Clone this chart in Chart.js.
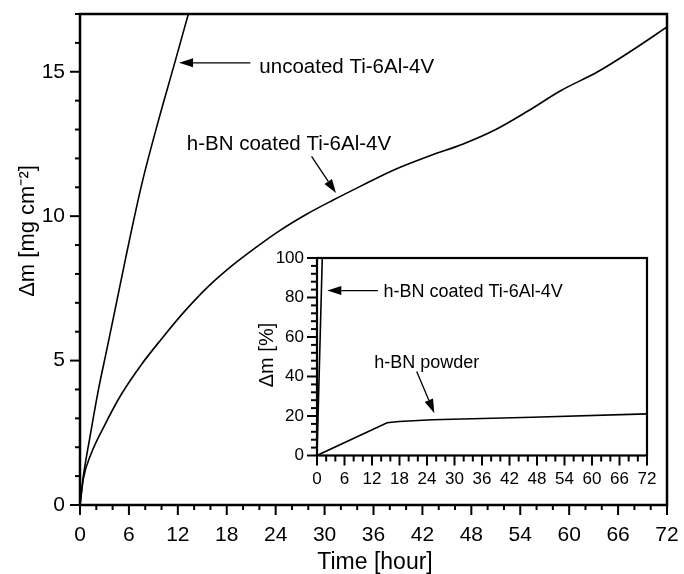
<!DOCTYPE html>
<html>
<head>
<meta charset="utf-8">
<script src="https://cdn.jsdelivr.net/npm/chart.js@4.4.1/dist/chart.umd.min.js"></script>
<style>
html, body { margin: 0; padding: 0; background: #fff; }
#wrap { position: relative; width: 684px; height: 574px; }
#mainChart { position: absolute; left: 0; top: 0; }
#insetChart { position: absolute; left: 250px; top: 240px; }
</style>
</head>
<body>
<div id="wrap">
  <canvas id="mainChart" width="684" height="574" style="width:684px;height:574px"></canvas>
  <canvas id="insetChart" width="410" height="250" style="width:410px;height:250px"></canvas>
</div>
<script>
// main plot: mass gain per area vs time
var uncoatedHours = [0, 0.12, 0.4, 1.23, 2.25, 3.28, 4.29, 5.6, 7.57, 9.61, 11.66, 13.29];
var uncoatedGain  = [0, 0.29, 0.98, 2.37, 3.98, 5.37, 6.75, 8.55, 11.1, 13.3, 15.35, 17.0];

var coatedHours = [0, 0.4, 1.4, 3, 5, 7.5, 10, 12.5, 15.5, 18.5, 21.5, 24.5, 28, 31, 34.5, 38.5, 43, 47, 51, 55, 59, 63.5, 67.5, 72];
var coatedGain  = [0, 0.9, 1.8, 2.75, 3.8, 4.85, 5.75, 6.6, 7.5, 8.25, 8.9, 9.5, 10.1, 10.55, 11.05, 11.6, 12.1, 12.5, 13.0, 13.65, 14.35, 15.0, 15.7, 16.55];

// inset: mass gain in percent
var insetCoatedHours = [0, 1.15];
var insetCoatedPct   = [0, 100];
var powderHours = [0, 15.3, 17.9, 25.2, 47, 72];
var powderPct   = [0, 16.6, 17.2, 18.1, 19.4, 21.1];

var mainXTicks = [0, 72, 6, 2];     // min, max, major step, minor step
var mainYTicks = [0, 17, 5, 1];
var insetXTicks = [0, 72, 6, 2];
var insetYTicks = [0, 100, 20, 4];

var FONT = "'Liberation Sans', Arial, sans-serif";

function toPoints(xs, ys) {
    var pts = [];
    for (var i = 0; i < xs.length; i++) pts.push({x: xs[i], y: ys[i]});
    return pts;
}

// ticks on the outside + closed frame
function frameTicksPlugin(cfg) {
    return {
        id: 'frameTicks',
        afterDraw: function(chart) {
            var ctx = chart.ctx, a = chart.chartArea;
            var xs = chart.scales.x, ys = chart.scales.y;
            ctx.save();
            ctx.strokeStyle = '#000';
            ctx.lineWidth = cfg.tickWidth;
            var v, p, major;
            for (v = cfg.x[0]; v <= cfg.x[1] + 1e-9; v += cfg.x[3]) {
                p = xs.getPixelForValue(v);
                major = Math.abs(v / cfg.x[2] - Math.round(v / cfg.x[2])) < 1e-6;
                ctx.beginPath();
                ctx.moveTo(p, a.bottom);
                ctx.lineTo(p, a.bottom + (major ? cfg.major : cfg.minor));
                ctx.stroke();
            }
            for (v = cfg.y[0]; v <= cfg.y[1] + 1e-9; v += cfg.y[3]) {
                p = ys.getPixelForValue(v);
                major = Math.abs(v / cfg.y[2] - Math.round(v / cfg.y[2])) < 1e-6;
                ctx.beginPath();
                ctx.moveTo(a.left, p);
                ctx.lineTo(a.left - (major ? cfg.major : cfg.minor), p);
                ctx.stroke();
            }
            ctx.lineWidth = cfg.frameWidth;
            ctx.strokeRect(a.left, a.top, a.right - a.left, a.bottom - a.top);
            ctx.restore();
        }
    };
}

function arrow(ctx, x1, y1, x2, y2) {
    var ang = Math.atan2(y2 - y1, x2 - x1);
    var len = 14, half = 4.5;
    var bx = x2 - len * Math.cos(ang), by = y2 - len * Math.sin(ang);
    ctx.beginPath();
    ctx.moveTo(x1, y1);
    ctx.lineTo(bx, by);
    ctx.stroke();
    ctx.beginPath();
    ctx.moveTo(x2, y2);
    ctx.lineTo(bx + half * Math.sin(ang), by - half * Math.cos(ang));
    ctx.lineTo(bx - half * Math.sin(ang), by + half * Math.cos(ang));
    ctx.closePath();
    ctx.fill();
}

// labels with arrows (data coords) and axis titles (pixels)
function calloutsPlugin(items, font, titles) {
    return {
        id: 'callouts',
        afterDraw: function(chart) {
            var ctx = chart.ctx;
            var xs = chart.scales.x, ys = chart.scales.y;
            ctx.save();
            ctx.fillStyle = '#000';
            ctx.strokeStyle = '#000';
            ctx.lineWidth = 1.3;
            ctx.font = font;
            ctx.textAlign = 'left';
            ctx.textBaseline = 'alphabetic';
            items.forEach(function(it) {
                ctx.fillText(it.text, xs.getPixelForValue(it.at[0]), ys.getPixelForValue(it.at[1]));
                arrow(ctx, xs.getPixelForValue(it.from[0]), ys.getPixelForValue(it.from[1]),
                      xs.getPixelForValue(it.to[0]), ys.getPixelForValue(it.to[1]));
            });
            titles.forEach(function(t) {
                ctx.save();
                ctx.font = t.font;
                ctx.textAlign = 'center';
                ctx.translate(t.x, t.y);
                ctx.rotate(t.rot);
                ctx.fillText(t.text, 0, 0);
                ctx.restore();
            });
            ctx.restore();
        }
    };
}

function axisOptions(t, fontSize, pad, fitSize, horizontal) {
    return {
        type: 'linear',
        min: t[0],
        max: t[1],
        grid: { display: false, drawTicks: false },
        border: { display: false },
        ticks: {
            stepSize: t[2],
            padding: pad,
            color: '#000',
            font: { family: FONT, size: fontSize },
            callback: function(value) {
                return Math.abs(value % t[2]) < 1e-6 ? value : '';
            }
        },
        afterFit: function(scale) {
            if (horizontal) {
                scale.height = fitSize;
                scale.paddingLeft = 0;
                scale.paddingRight = 0;
            } else {
                scale.width = fitSize;
                scale.paddingTop = 0;
                scale.paddingBottom = 0;
            }
        }
    };
}

function drawMainChart() {
    var ctx = document.getElementById('mainChart').getContext('2d');
    var data = {
        datasets: [{
            data: toPoints(uncoatedHours, uncoatedGain),
            label: 'uncoated Ti-6Al-4V'
        }, {
            data: toPoints(coatedHours, coatedGain),
            label: 'h-BN coated Ti-6Al-4V'
        }]
    };
    data.datasets.forEach(function(d) {
        d.showLine = true;
        d.borderColor = '#000';
        d.borderWidth = 1.6;
        d.pointRadius = 0;
        d.cubicInterpolationMode = 'monotone';
    });
    var callouts = [
        { text: 'uncoated Ti-6Al-4V', at: [22.0, 14.96], from: [20.9, 15.31], to: [12.15, 15.31] },
        { text: 'h-BN coated Ti-6Al-4V', at: [13.1, 12.3], from: [28.4, 12.07], to: [31.4, 10.8] }
    ];
    var titles = [
        { text: 'Time [hour]', x: 375, y: 569, rot: 0, font: '23px ' + FONT },
        { text: '\u0394m [mg cm\u207B\u00B2]', x: 34, y: 231, rot: -Math.PI / 2, font: '22px ' + FONT }
    ];
    new Chart(ctx, {
        type: 'scatter',
        data: data,
        options: {
            responsive: false,
            animation: false,
            layout: { padding: { top: 14, right: 17, left: 0, bottom: 0 } },
            plugins: { legend: { display: false }, tooltip: { enabled: false } },
            scales: {
                x: axisOptions(mainXTicks, 21, 18, 69, true),
                y: axisOptions(mainYTicks, 21, 15, 80, false)
            }
        },
        plugins: [
            frameTicksPlugin({ x: mainXTicks, y: mainYTicks, major: 10, minor: 5, tickWidth: 2, frameWidth: 2.5 }),
            calloutsPlugin(callouts, '20.5px ' + FONT, titles)
        ]
    });
}

function drawInsetChart() {
    var ctx = document.getElementById('insetChart').getContext('2d');
    var data = {
        datasets: [{
            data: toPoints(insetCoatedHours, insetCoatedPct),
            label: 'h-BN coated Ti-6Al-4V'
        }, {
            data: toPoints(powderHours, powderPct),
            label: 'h-BN powder'
        }]
    };
    data.datasets.forEach(function(d) {
        d.showLine = true;
        d.borderColor = '#000';
        d.borderWidth = 1.6;
        d.pointRadius = 0;
        d.tension = 0;
    });
    var callouts = [
        { text: 'h-BN coated Ti-6Al-4V', at: [14.5, 80.1], from: [13.3, 83.5], to: [2.25, 83.5] },
        { text: 'h-BN powder', at: [12.5, 44.3], from: [21.75, 42.5], to: [25.6, 21.4] }
    ];
    var titles = [
        { text: '\u0394m [%]', x: 23, y: 115, rot: -Math.PI / 2, font: '20px ' + FONT }
    ];
    var whiteArea = {
        id: 'whiteArea',
        beforeDraw: function(chart) {
            var a = chart.chartArea;
            chart.ctx.save();
            chart.ctx.fillStyle = '#fff';
            chart.ctx.fillRect(a.left, a.top, a.right - a.left, a.bottom - a.top);
            chart.ctx.restore();
        }
    };
    new Chart(ctx, {
        type: 'scatter',
        data: data,
        options: {
            responsive: false,
            animation: false,
            layout: { padding: { top: 18, right: 13, left: 0, bottom: 0 } },
            plugins: { legend: { display: false }, tooltip: { enabled: false } },
            scales: {
                x: axisOptions(insetXTicks, 17, 14, 34.5, true),
                y: axisOptions(insetYTicks, 17, 13, 67, false)
            }
        },
        plugins: [
            whiteArea,
            frameTicksPlugin({ x: insetXTicks, y: insetYTicks, major: 10, minor: 6, tickWidth: 2, frameWidth: 2.2 }),
            calloutsPlugin(callouts, '18px ' + FONT, titles)
        ]
    });
}

drawMainChart();
drawInsetChart();
</script>
</body>
</html>
